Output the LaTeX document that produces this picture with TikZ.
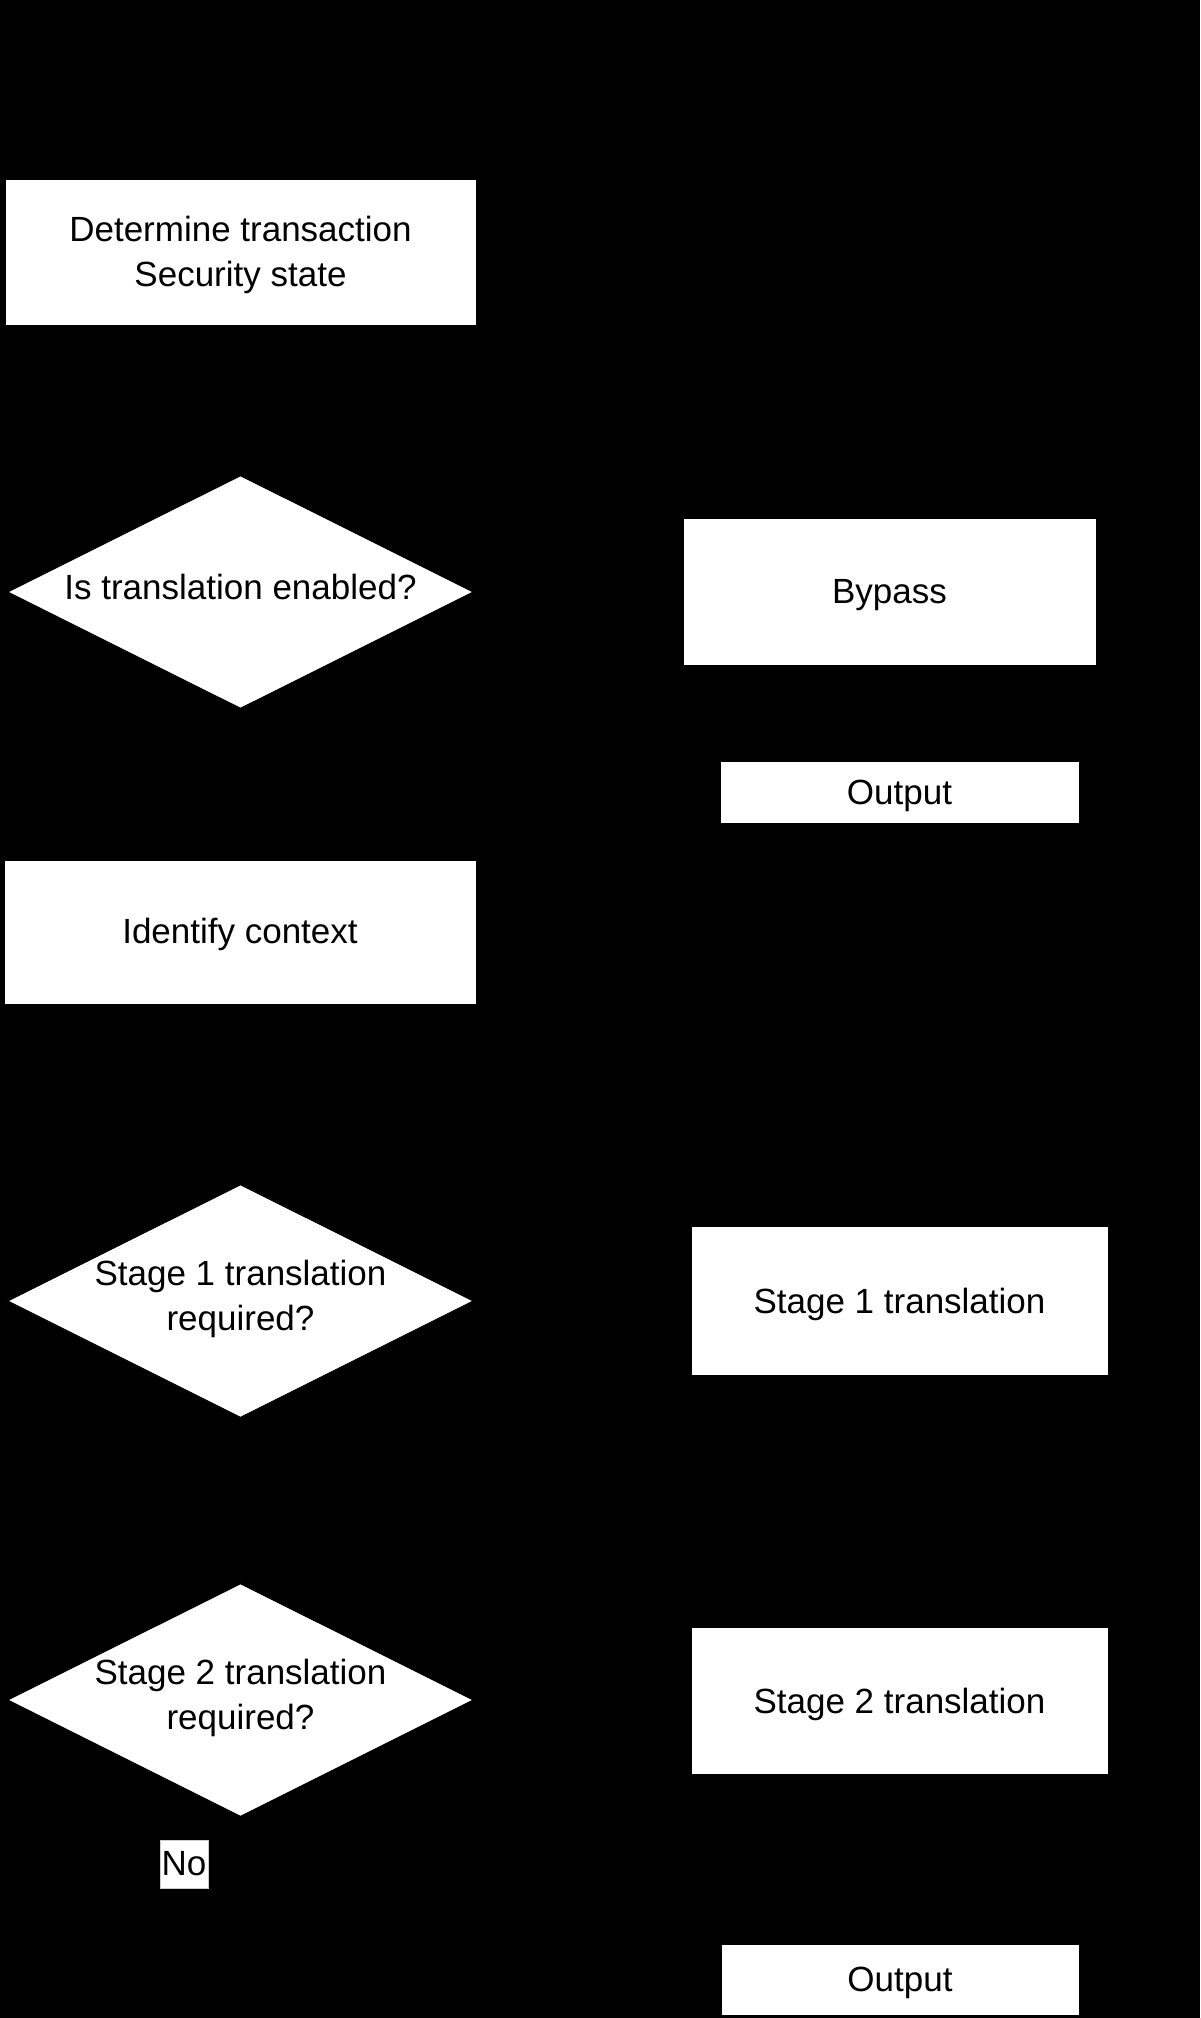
\documentclass[tikz,border=0pt]{standalone}
\usepackage{fontspec}
\setmainfont{Liberation Sans}
\usetikzlibrary{shapes.geometric,arrows.meta,calc}
\begin{document}
\begin{tikzpicture}[x=1pt,y=-1pt,
  every node/.style={font=\fontsize{35}{45}\selectfont},
  procbox/.style={draw=black, line width=1pt, fill=white, inner sep=0pt},
  decbox/.style={diamond, draw=black, line width=1pt, fill=white, inner sep=0pt,
                 minimum width=466pt, minimum height=233pt},
  boxtext/.style={align=center, inner sep=0pt},
  flow/.style={draw=black, line width=1.5pt, -{Triangle[length=10pt,width=8pt]}},
  lbl/.style={fill=white, draw=gray!40, line width=0.6pt, inner sep=0pt, minimum width=48pt, minimum height=48pt}]
\fill[black] (0,0) rectangle (1200,2018);
\useasboundingbox (0,0) rectangle (1200,2018);

% nodes
\node[procbox, minimum width=471pt, minimum height=146pt] (sec) at (240.5,252) {};
\node[boxtext] (sect) at ($(sec.center)+(0,3)$) {Determine transaction\\Security state};
\node[decbox] (d1) at (240.5,592) {};
\node[boxtext] (d1t) at ($(d1.center)+(0,-5)$) {Is translation enabled?};
\node[procbox, minimum width=413pt, minimum height=147pt] (byp) at (889.5,591.5) {};
\node[boxtext] (bypt) at ($(byp.center)+(0,4)$) {Bypass};
\node[procbox, minimum width=359pt, minimum height=62pt] (out1) at (899.5,792) {};
\node[boxtext] (out1t) at ($(out1.center)+(0,4)$) {Output};
\node[procbox, minimum width=472pt, minimum height=144pt] (ctx) at (240,932) {};
\node[boxtext] (ctxt) at ($(ctx.center)+(0,2)$) {Identify context};
\node[decbox] (d2) at (240.5,1301) {};
\node[boxtext] (d2t) at ($(d2.center)+(0,-2)$) {Stage 1 translation\\required?};
\node[procbox, minimum width=417pt, minimum height=149pt] (s1) at (899.5,1300.5) {};
\node[boxtext] (s1t) at ($(s1.center)+(0,4)$) {Stage 1 translation};
\node[decbox] (d3) at (240.5,1700) {};
\node[boxtext] (d3t) at ($(d3.center)+(0,-2)$) {Stage 2 translation\\required?};
\node[procbox, minimum width=417pt, minimum height=147pt] (s2) at (899.5,1700.5) {};
\node[boxtext] (s2t) at ($(s2.center)+(0,4)$) {Stage 2 translation};
\node[procbox, minimum width=358pt, minimum height=71pt] (out2) at (900,1979.5) {};
\node[boxtext] (out2t) at ($(out2.center)+(0,3)$) {Output};

% connectors (black, as in the reference)
\coordinate (start) at (240.5,60);
\coordinate (mid23) at (240.5,1500);
\coordinate (bend3) at (240.5,1979.5);
\draw[flow] (start) -- (sec.north);
\draw[flow] (sec.south) -- (d1.north);
\draw[flow] (d1.east) -- (byp.west);
\draw[flow] (byp.south) -- (out1.north);
\draw[flow] (d1.south) -- (ctx.north);
\draw[flow] (ctx.south) -- (d2.north);
\draw[flow] (d2.east) -- (s1.west);
\draw[flow] (d2.south) -- (d3.north);
\draw[draw=black, line width=1.5pt] (s1.south) |- (mid23);
\draw[flow] (d3.east) -- (s2.west);
\draw[flow] (s2.south) -- (out2.north);
\draw[flow] (d3.south) -- (bend3) -- (out2.west);

\node[lbl] (no) at (184,1864) {No};
\end{tikzpicture}
\end{document}
